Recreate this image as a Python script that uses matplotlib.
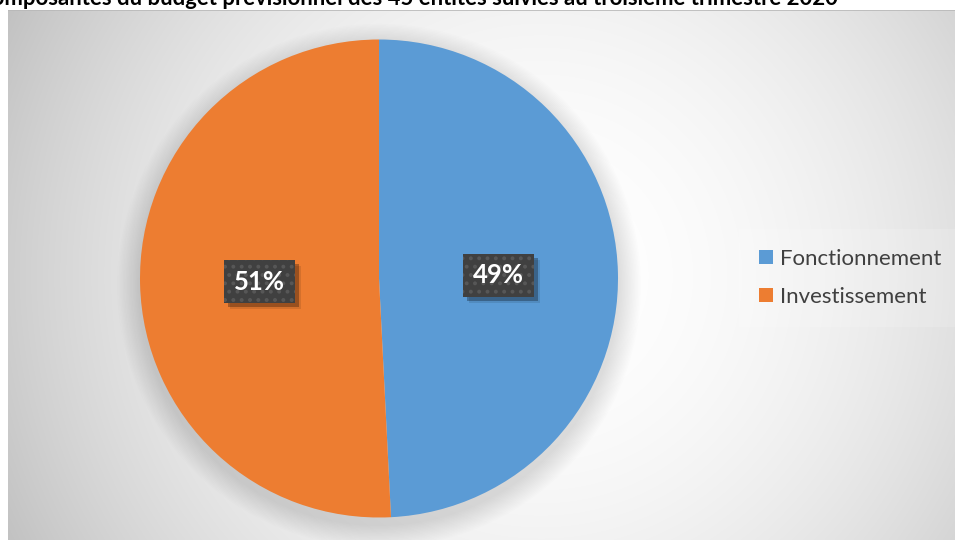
import numpy as np
import matplotlib
matplotlib.use("Agg")
import matplotlib.pyplot as plt
from matplotlib.patches import Rectangle
from matplotlib.transforms import IdentityTransform

# Données
categories = ["Fonctionnement", "Investissement"]
shares = [49.2, 50.8]
slice_colors = ["#5B9BD5", "#ED7D31"]
title_txt = ("Composantes du budget prévisionnel des 45 entités suivies "
             "au troisième trimestre 2020")

W, H = 955, 540
plt.rcParams["font.family"] = ["Lato", "DejaVu Sans"]
plt.rcParams["hatch.linewidth"] = 1.6

fig = plt.figure(figsize=(W / 100, H / 100), dpi=100)
fig.patch.set_facecolor("white")

# Fond gris en dégradé radial (zone de graphique)
bg = fig.add_axes([8 / W, 0, (W - 8) / W, 530 / H])
bg.set_axis_off()
xs = np.arange(8, W)
ys = np.arange(10, H)
X, Y = np.meshgrid(xs, ys)
r = np.hypot(X - 540, Y - 275) / 594.0
v = 1 - 0.24 * r ** 2
bg.imshow(np.dstack([v, v, v]), extent=(0, 1, 0, 1), aspect="auto",
          interpolation="bilinear", origin="upper")
bg.axhline(1, color="#b8b8b8", lw=1.2)
bg.set_xlim(0, 1)
bg.set_ylim(0, 1)

# Camembert
R = 239
cx, cy = 379, H - 278.5
ax = fig.add_axes([(cx - R) / W, (cy - R) / H, 2 * R / W, 2 * R / H])
ax.set_axis_off()

# ombre douce sous le disque
for k in range(16):
    rad = 1.0 + 0.006 * (16 - k)
    ax.add_patch(plt.Circle((0, -0.03), rad, color="black",
                            alpha=0.009, lw=0, zorder=0, clip_on=False))

wedges, texts, autotexts = ax.pie(
    shares, colors=slice_colors, startangle=90, counterclock=False,
    autopct=lambda p: f"{p:.0f}%", pctdistance=0.5,
    wedgeprops=dict(linewidth=0, zorder=2),
    textprops=dict(color="white", fontsize=18.5, fontweight="bold"))
ax.set_xlim(-1, 1)
ax.set_ylim(-1, 1)

for t in autotexts:
    t.set_zorder(6)
    t.set_bbox(dict(boxstyle="square,pad=0.38", facecolor="#404040",
                    edgecolor="#575757", linewidth=0, hatch=".."))

# Légende
leg = fig.legend(wedges, categories, loc="center left",
                 bbox_to_anchor=(746 / W, (H - 278) / H),
                 fontsize=16, frameon=True, handlelength=0.6,
                 handleheight=0.6, handletextpad=0.35, labelspacing=0.8,
                 borderpad=0.6, borderaxespad=0)
leg.get_frame().set_facecolor("white")
leg.get_frame().set_alpha(0.15)
leg.get_frame().set_linewidth(0)
leg.get_frame().set_boxstyle("square")
for txt in leg.get_texts():
    txt.set_color("#404040")

# Titre (coupé à gauche comme dans l'original)
renderer = fig.canvas.get_renderer()
probe = fig.text(0, 0, title_txt[2:], fontsize=14, fontweight="bold")
wpx = probe.get_window_extent(renderer).width
probe.remove()
fs = 14 * 838 / wpx
fig.text(838 / W, (H - 5) / H, title_txt, ha="right", va="baseline",
         fontsize=fs, fontweight="bold", color="black")

# ombres portées des étiquettes
fig.canvas.draw()
renderer = fig.canvas.get_renderer()
for t in autotexts:
    bb = t.get_bbox_patch().get_window_extent(renderer)
    for off, a in ((4, 0.28), (6, 0.1)):
        sh = Rectangle((bb.x0 + off, bb.y0 - off), bb.width, bb.height,
                       facecolor="black", alpha=a, lw=0, zorder=5,
                       clip_on=False)
        ax.add_patch(sh)
        sh.set_transform(IdentityTransform())

fig.savefig("out.png", dpi=100, facecolor="white")
